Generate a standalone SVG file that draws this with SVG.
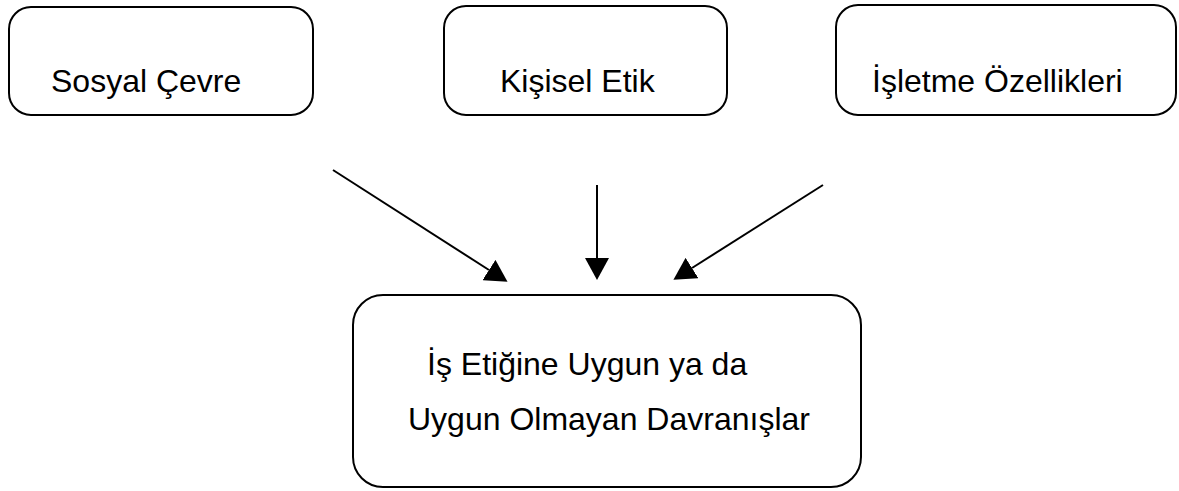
<svg xmlns="http://www.w3.org/2000/svg" width="1179" height="491" viewBox="0 0 1179 491">
<style>
.box{fill:#fff;stroke:#000;stroke-width:2}
.lbl{font-family:"Liberation Sans",Arial,sans-serif;font-size:32px;fill:#000}
.conn{stroke:#000;stroke-width:2;fill:none}
</style>
<defs>
<marker id="ah" viewBox="0 0 22 24" refX="0" refY="12" markerWidth="22" markerHeight="24" markerUnits="userSpaceOnUse" orient="auto">
<path d="M0,0 L22,12 L0,24 z" fill="#000"/>
</marker>
</defs>
<rect width="1179" height="491" fill="#fff"/>
<g id="node-sosyal">
<rect class="box" x="9" y="7" width="304" height="108" rx="22" ry="22"/>
<text class="lbl" x="51" y="92">Sosyal Çevre</text>
</g>
<g id="node-kisisel">
<rect class="box" x="444" y="6" width="283" height="109" rx="22" ry="22"/>
<text class="lbl" x="500" y="92">Kişisel Etik</text>
</g>
<g id="node-isletme">
<rect class="box" x="836" y="5" width="340" height="110" rx="22" ry="22"/>
<text class="lbl" x="872" y="92">İşletme Özellikleri</text>
</g>
<g id="node-davranis">
<rect class="box" x="353" y="295" width="508" height="192" rx="30" ry="30"/>
<text class="lbl" x="427" y="375">İş Etiğine Uygun ya da</text>
<text class="lbl" x="408" y="430">Uygun Olmayan Davranışlar</text>
</g>
<g id="connectors">
<line class="conn" x1="333" y1="170" x2="489" y2="270" marker-end="url(#ah)"/>
<line class="conn" x1="597" y1="185" x2="597" y2="258" marker-end="url(#ah)"/>
<line class="conn" x1="823" y1="185" x2="692" y2="268" marker-end="url(#ah)"/>
</g>
</svg>
